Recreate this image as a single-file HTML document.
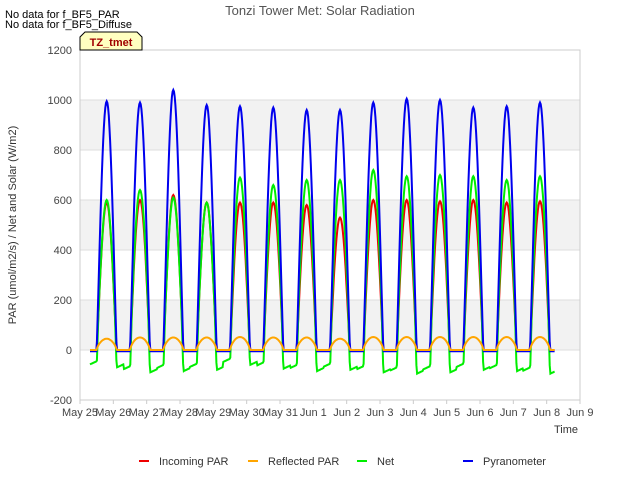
<!DOCTYPE html>
<html><head><meta charset="utf-8"><style>
body{margin:0;background:#fff;font-family:"Liberation Sans","DejaVu Sans",sans-serif}
svg text{font-family:"Liberation Sans","DejaVu Sans",sans-serif}
</style></head><body>
<svg id="c" width="640" height="480" xmlns="http://www.w3.org/2000/svg">
<rect width="640" height="480" fill="#fff"/>
<g id="bands"></g>
<g id="grid"></g>
<rect x="80" y="50" width="500" height="350" fill="none" stroke="#ccc"/>
<g id="series"></g>
<g id="axes"></g>
<text x="320" y="15" text-anchor="middle" font-size="13" fill="#555">Tonzi Tower Met: Solar Radiation</text>
<text x="5" y="18" font-size="11" fill="#000">No data for f_BF5_PAR</text>
<text x="5" y="28" font-size="11" fill="#000">No data for f_BF5_Diffuse</text>
<g><path d="M80,50 L80,37 L85,32 L137,32 L142,37 L142,50 Z" fill="#ffffc0" stroke="#000"/>
<text x="111" y="46" text-anchor="middle" font-size="11" font-weight="bold" fill="#a00000">TZ_tmet</text></g>
<text x="16" y="225" transform="rotate(-90 16 225)" text-anchor="middle" font-size="11" fill="#333">PAR (umol/m2/s) / Net and Solar (W/m2)</text>
<text x="578" y="433" text-anchor="end" font-size="11" fill="#333">Time</text>
<g id="legend"></g>
</svg>
<script>
const yTicks=[-200,0,200,400,600,800,1000,1200];
const xTickLabels=["May 25","May 26","May 27","May 28","May 29","May 30","May 31","Jun 1","Jun 2","Jun 3","Jun 4","Jun 5","Jun 6","Jun 7","Jun 8","Jun 9"];
const pyrPeaks=[995,990,1040,980,975,970,960,960,990,1005,1000,970,975,990];
const parPeaks=[590,600,620,590,590,590,580,530,600,600,595,600,590,595];
const netPeaks=[600,640,610,590,690,660,680,680,720,695,700,695,680,695];
const reflPeaks=[45,50,50,50,52,50,50,45,52,52,52,52,52,52];
const netNight=[-70,-90,-85,-80,-60,-75,-85,-80,-90,-95,-90,-80,-85,-95];
const NS="http://www.w3.org/2000/svg";
const X=d=>80+d*500/15, Y=v=>350-v*0.25;
function mk(t,a,p){const e=document.createElementNS(NS,t);for(const k in a)e.setAttribute(k,a[k]);p.appendChild(e);return e;}
const bands=document.getElementById('bands'),grid=document.getElementById('grid'),axes=document.getElementById('axes');
[[0,200],[400,600],[800,1000]].forEach(b=>{const r=mk('rect',{x:80,y:Y(b[1]),width:500,height:Y(b[0])-Y(b[1]),fill:'#f2f2f2'},bands);

});
yTicks.forEach(v=>{mk('line',{x1:80,x2:580,y1:Y(v),y2:Y(v),stroke:'#ddd'},grid);
const t=mk('text',{x:72,y:Y(v)+4,'text-anchor':'end','font-size':11,fill:'#444'},axes);t.textContent=v;

});
xTickLabels.forEach((l,i)=>{mk('line',{x1:X(i),x2:X(i),y1:400,y2:404,stroke:'#ccc'},axes);
const t=mk('text',{x:X(i),y:416,'text-anchor':'middle','font-size':11,fill:'#444'},axes);t.textContent=l;

});
const D0=0.5,DL=0.6;
function shape(f){const g=(f-D0)/DL; if(g<=0||g>=1) return 0; return Math.pow(Math.sin(Math.PI*g),1.1);}
function build(fn){const pts=[];for(let t=0.3;t<=14.25;t+=1/48){const f=t-Math.floor(t);
 let di=f<0.3?Math.floor(t)-1:Math.floor(t); if(di<0)di=0; if(di>13)di=13;
 const ff=f<0.3?f+1:f; pts.push(X(t).toFixed(1)+','+Y(fn(di,ff)).toFixed(1));}return pts.join(' ');}
const ser=document.getElementById('series');
const defs=[
 ['net','#00ee00',(i,f)=>{const s=shape(f);if(s>0)return netPeaks[i]*s+netNight[i]*(1-Math.min(1,s*4));const n=(f>=D0+DL?f-(D0+DL):f+1-(D0+DL));return netNight[i]+25*Math.min(1,n/0.4);}],
 ['reflected-par','orange',(i,f)=>reflPeaks[i]*Math.pow(shape(f),0.6)],
 ['pyranometer','#0000ee',(i,f)=>{const s=shape(f);return s>0?pyrPeaks[i]*s:-5;}],
 ['incoming-par','#ee0000',(i,f)=>{const s=shape(f);return s>0?parPeaks[i]*s:0;}]
];
[defs[3],defs[0],defs[2],defs[1]].forEach(d=>{const p=mk('polyline',{points:build(d[2]),fill:'none',stroke:d[1],'stroke-width':2},ser);

});
const leg=document.getElementById('legend');
const legNames=["Incoming PAR","Reflected PAR","Net","Pyranometer"],legCol=['#ee0000','orange','#00ee00','#0000ee'],legX=[139,248,357,463];
legNames.forEach((n,i)=>{const g=mk('g',{},leg);


mk('line',{x1:legX[i],x2:legX[i]+10,y1:461,y2:461,stroke:legCol[i],'stroke-width':2},g);
const t=mk('text',{x:legX[i]+20,y:465,'font-size':11,fill:'#333'},g);t.textContent=n;});
</script>
</body></html>
